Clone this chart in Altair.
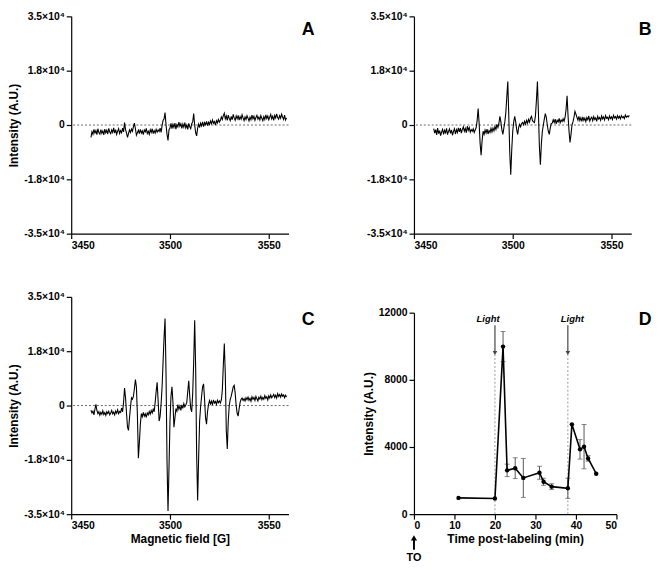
import altair as alt
import pandas as pd

FONT = "Liberation Sans"

# ---- EPR spectra (intensity in units of 1000 A.U.), sampled every 0.5 G from 3460 G ----
FIELD_START = 3460.0
FIELD_STEP = 0.5

spec_a = [
    -4.0, -2.2, -3.0, -1.4, -2.6, -1.8, -3.1, -1.2, -2.4, -2.9,
    -1.5, -2.7, -1.9, -3.2, -1.3, -2.5, -1.7, -2.9, -1.1, -2.3,
    -2.8, -1.6, -2.4, -0.9, -2.6, -1.5, -3.0, -2.0, -1.2, -2.7,
    -1.8, -2.5, -1.0, -2.2, 0.8, -1.5, -2.6, -4.0, -2.8, -1.6,
    -2.4, -1.3, -2.0, -0.5, 0.6, -1.2, -3.3, -2.5, -1.7, -2.8,
    -1.4, -2.6, -1.9, -3.1, -1.6, -2.2, -1.1, -2.7, -2.0, -3.0,
    -1.5, -2.4, -1.2, -2.8, -1.8, -2.6, -1.4, -2.3, -1.6, -2.1,
    -1.0, -2.4, -0.2, 1.5, 2.0, 4.0, 0.0, -3.0, -5.0, -1.5,
    -1.0, 0.5, -1.2, 0.2, -0.8, 0.6, -1.3, 0.1, -0.6, 0.9,
    -0.4, 0.4, -1.1, 0.3, -0.7, 0.8, -0.9, 0.0, -1.4, 0.5,
    -0.6, -1.2, 0.4, 1.0, 3.7, 0.0, -2.5, -3.5, -1.0, 0.3,
    -0.8, 0.6, -0.3, 1.0, -0.5, 0.8, 0.1, 1.2, -0.2, 0.9,
    0.2, 1.3, 0.4, 1.6, 0.6, 1.1, 0.0, 1.4, 0.7, 1.8,
    0.9, 1.5, 2.6, 1.8, 3.0, 3.8, 2.0, 2.9, 1.5, 3.2,
    2.1, 1.4, 2.8, 1.7, 3.4, 2.2, 1.5, 2.9, 2.0, 3.1,
    1.6, 2.7, 1.9, 3.3, 2.3, 1.4, 2.6, 1.8, 3.0, 2.2,
    1.3, 2.5, 1.7, 3.2, 2.0, 2.8, 1.5, 2.4, 3.1, 1.9,
    2.6, 1.6, 3.0, 2.2, 1.4, 2.7, 1.8, 3.3, 2.1, 2.9,
    1.7, 2.5, 3.4, 2.0, 2.8, 1.5, 3.1, 2.3, 3.6, 2.4,
    1.9, 3.0, 2.2, 3.5, 2.6, 1.8, 3.2, 1.6, 2.3,
]

spec_b = [
    -1.2, -2.6, -1.5, -3.2, -1.0, -2.8, -1.8, -3.4, -2.2, -1.4,
    -3.0, -1.7, -2.5, -1.1, -3.1, -2.0, -1.3, -2.7, -1.6, -3.3,
    -2.1, -1.2, -2.9, -1.5, -2.4, -0.9, -2.2, -1.0, -2.6, -1.4,
    -0.6, -2.0, -1.1, -2.5, -0.4, -1.7, -0.8, -2.3, -1.5, -2.0,
    -1.2, -2.4, -1.6, -0.8, 1.5, 5.3, 0.5, -6.0, -9.7, -5.0,
    -2.0, -3.0, -1.6, -2.6, -1.3, -2.9, -1.8, -2.4, -1.1, -2.2,
    -1.0, -1.9, -0.5, -1.4, 0.2, -0.8, 0.5, 2.8, 1.0, -1.5,
    -3.0, -1.0, 1.0, 4.0, 9.0, 14.0, 3.0, -9.0, -16.0, -8.0,
    -2.0, 1.0, 2.8, 1.0, -1.5, -3.0, -0.8, 0.2, -0.6, 0.5,
    0.8, 0.1, 1.2, 0.3, 1.5, 0.6, 1.8, 0.9, 2.2, 2.8,
    1.4, 1.0, 0.8, 3.0, 8.0, 14.0, 4.0, -7.0, -12.8, -6.0,
    -2.0, 0.0, 2.0, 3.7, 2.5, 0.0, -2.0, -3.0, -1.0, 0.5,
    0.6, 1.7, 0.8, 1.9, 0.4, 1.5, 1.0, 2.1, 0.7, 1.6,
    1.1, 2.0, 1.2, 2.5, 5.0, 9.4, 3.0, -2.0, -5.6, -3.0,
    0.0, 1.0, 2.5, 4.4, 3.5, 2.5, 1.6, 2.8, 1.4, 2.3,
    1.2, 2.6, 1.5, 2.2, 1.1, 2.4, 1.7, 2.9, 1.3, 2.1,
    2.5, 1.4, 2.7, 1.8, 2.3, 1.2, 2.8, 1.9, 2.4, 1.5,
    2.9, 2.0, 2.6, 1.6, 3.0, 2.2, 2.5, 1.7, 2.9, 2.1,
    2.6, 1.8, 3.1, 2.3, 2.7, 1.9, 3.0, 2.2, 2.8, 2.0,
    3.0, 2.4, 2.7, 2.1, 3.2, 2.5, 2.9, 2.6, 3.1,
]

spec_c = [
    -1.5, -2.4, -1.8, -3.0, -1.2, 0.4, -1.6, -2.6, -2.0, -3.1,
    -2.2, -2.8, -1.7, -2.9, -2.3, -3.2, -2.0, -2.6, -1.9, -3.0,
    -2.4, -1.6, -2.7, -2.1, -3.0, -1.8, -2.5, -1.4, -2.6, -1.9,
    -2.2, -0.8, -2.0, 1.0, 5.6, 2.5, -2.5, -7.0, -8.0, -4.0,
    -0.5, 2.5, 2.0, 3.0, 5.5, 8.4, 6.0, -3.0, -17.0, -12.0,
    -6.0, -2.6, -3.6, -2.2, -3.4, -2.7, -3.8, -2.4, -3.0, -1.9,
    -2.8, -1.6, -2.4, -1.2, -2.0, 1.0, 4.5, 7.5, 1.5, -5.0,
    -3.5, 0.5, 6.0, 14.0, 22.0, 28.0, 10.0, -18.0, -34.0, -20.0,
    -5.0, 3.0, 6.0, 1.0, -7.0, -4.0, -1.0, -1.8, 0.3, -1.2,
    -0.2, -1.6, 0.2, -0.9, 0.6, -0.4, 0.2, 1.0, 4.5, 8.0,
    3.0, -1.0, -2.0, 4.0, 14.0, 27.5, 12.0, -16.0, -30.6, -17.0,
    -5.0, -0.5, 3.0, 6.0, 7.0, 2.0, -4.0, -6.0, -2.0, 0.3,
    1.6, 0.5, 1.4, 0.2, 1.8, 0.8, 1.3, 0.4, 1.7, 0.9,
    1.5, 0.8, 1.8, 5.0, 13.0, 20.0, 10.0, -8.0, -14.0, -5.0,
    0.0, 2.0, 3.0, 4.5, 6.0, 6.5, 4.0, 0.0, -2.5, -3.4,
    -1.0, 1.0, 2.0, 2.4, 1.6, 2.2, 1.5, 2.5, 1.9, 2.7,
    1.7, 2.3, 1.4, 2.8, 2.0, 2.6, 1.6, 2.9, 2.2, 1.5,
    2.7, 2.1, 3.0, 1.9, 2.6, 2.0, 3.2, 2.3, 2.8, 1.8,
    3.1, 2.4, 3.4, 2.5, 3.0, 3.6, 2.6, 3.3, 2.4, 3.8,
    2.9, 3.5, 2.7, 3.7, 3.0, 3.4, 2.5, 3.3, 2.8,
]

field_ticks = [3450, 3500, 3550]
intensity_ticks = [-35000, -17500, 0, 17500, 35000]

# ---- Panel D: time course ----
time_min = [11, 20, 22, 23, 25, 27, 31, 32, 34, 38, 39, 41, 42, 43, 45]
signal = [970, 930, 9980, 2610, 2740, 2160, 2470, 1930, 1640, 1540, 5350, 3860, 4020, 3320, 2410]
sem = [0, 0, 900, 370, 620, 1160, 390, 210, 175, 600, 0, 580, 1320, 165, 0]
light_times = [20, 38]
light_label_x = [18.3, 39.1]
time_ticks = [0, 10, 20, 30, 40, 50]
signal_ticks = [0, 4000, 8000, 12000]

W, H = 220, 220
WD = 205
D_TOP = 16  # the 12000 line sits this far below the panel top

LABEL_EXPR = ("datum.value == 0 ? '0' : (datum.value < 0 ? '-' : '') + "
              "(abs(datum.value) > 20000 ? '3.5' : '1.8') + '\u00d710\u2074'")


def letter(text, x, y):
    return alt.Chart(pd.DataFrame({"lab": [text]})).mark_text(
        font=FONT, fontSize=18, fontWeight="bold", align="center", baseline="middle", color="black"
    ).encode(x=alt.value(x), y=alt.value(y), text="lab:N")


def spectrum_panel(vals, let, ytitle, xtitle, let_x, let_y):
    df = pd.DataFrame({
        "field": [FIELD_START + FIELD_STEP * i for i in range(len(vals))],
        "intensity": [v * 1000 for v in vals],
    })
    xenc = alt.X("field:Q",
                 scale=alt.Scale(domain=[3450, 3560], nice=False, zero=False),
                 axis=alt.Axis(values=field_ticks, format="d",
                               title="Magnetic field [G]" if xtitle else None,
                               titlePadding=2))
    yscale = alt.Scale(domain=[-35000, 35000], nice=False)
    yaxis = alt.Axis(values=intensity_ticks, labelExpr=LABEL_EXPR,
                     title="Intensity (A.U.)" if ytitle else None,
                     minExtent=48, maxExtent=48, titlePadding=3)
    zero = alt.Chart(pd.DataFrame({"z": [0]})).mark_rule(
        color="#666", strokeDash=[2, 2], strokeWidth=1
    ).encode(y=alt.Y("z:Q", scale=yscale, axis=yaxis))
    line = alt.Chart(df).mark_line(color="black", strokeWidth=1.1).encode(
        x=xenc, y=alt.Y("intensity:Q", scale=yscale, axis=yaxis)
    )
    return alt.layer(zero, line, letter(let, let_x, let_y)).properties(width=W, height=H)


panel_a = spectrum_panel(spec_a, "A", True, False, W + 20, 14)
panel_b = spectrum_panel(spec_b, "B", False, False, W + 14, 14)
panel_c = spectrum_panel(spec_c, "C", True, True, W + 20, 23)

# Panel D
df_d = pd.DataFrame({"time": time_min, "signal": signal, "sem": sem})
xs = alt.Scale(domain=[0, 50], nice=False)
ys = alt.Scale(domain=[0, 12000], nice=False, range=[H, D_TOP])
xax = alt.Axis(values=time_ticks, format="d", title="Time post-labeling (min)", titlePadding=2)
yax = alt.Axis(values=signal_ticks, format="d", title="Intensity (A.U.)",
               minExtent=35, maxExtent=35, titlePadding=4)


def X(f):
    return alt.X(f, scale=xs, axis=xax)


def Y(f):
    return alt.Y(f, scale=ys, axis=yax)


df_light = pd.DataFrame({
    "t": light_times, "base": [0, 0], "tip": [9600, 9600], "top": [11250, 11250],
    "lx": light_label_x, "ly": [11650, 11650], "txt": ["Light", "Light"],
})
light_base = alt.Chart(df_light)
dotted = light_base.mark_rule(color="#999", strokeDash=[2, 2], strokeWidth=1).encode(
    x=X("t:Q"), y=Y("base:Q"), y2="tip:Q")
stem = light_base.mark_rule(color="#444", strokeWidth=1.2).encode(
    x=X("t:Q"), y=Y("top:Q"), y2="tip:Q")
head = light_base.mark_point(shape="triangle-down", filled=True, color="#444", size=22, opacity=1).encode(
    x=X("t:Q"), y=Y("tip:Q"))
light_txt = light_base.mark_text(font=FONT, fontSize=9.5, fontStyle="italic", fontWeight="bold",
                                 color="black").encode(x=X("lx:Q"), y=Y("ly:Q"), text="txt:N")

err = alt.Chart(df_d).transform_filter("datum.sem > 0").transform_calculate(
    lo="datum.signal - datum.sem", hi="datum.signal + datum.sem")
err_rule = err.mark_rule(color="#555", strokeWidth=1).encode(x=X("time:Q"), y=Y("lo:Q"), y2="hi:Q")
err_hi = err.mark_tick(orient="horizontal", size=5, thickness=1, color="#555").encode(
    x=X("time:Q"), y=Y("hi:Q"))
err_lo = err.mark_tick(orient="horizontal", size=5, thickness=1, color="#555").encode(
    x=X("time:Q"), y=Y("lo:Q"))
d_line = alt.Chart(df_d).mark_line(color="black", strokeWidth=1.6).encode(x=X("time:Q"), y=Y("signal:Q"))
d_pts = alt.Chart(df_d).mark_point(filled=True, color="black", size=20, opacity=1).encode(
    x=X("time:Q"), y=Y("signal:Q"))

df_to = pd.DataFrame({"t": [0], "lab": ["TO"]})
to_stem = alt.Chart(df_to).mark_rule(color="black", strokeWidth=2).encode(
    x=X("t:Q"), y=alt.value(H + 26), y2=alt.value(H + 36))
to_head = alt.Chart(df_to).mark_point(shape="triangle-up", filled=True, color="black", size=40, opacity=1).encode(
    x=X("t:Q"), y=alt.value(H + 24))
to_text = alt.Chart(df_to).mark_text(font=FONT, fontSize=11, fontWeight="bold", color="black",
                                     baseline="middle").encode(
    x=X("t:Q"), y=alt.value(H + 44), text="lab:N")

panel_d = alt.layer(
    dotted, stem, head, light_txt, err_rule, err_hi, err_lo, d_line, d_pts,
    to_stem, to_head, to_text, letter("D", WD + 29, 23)
).properties(width=WD, height=H)

chart = alt.concat(
    panel_a, panel_b, panel_c, panel_d,
    columns=2, spacing={"row": 64, "column": 127}, bounds="flush",
).properties(
    padding=0, background="white"
).configure_axis(
    labelFont=FONT, titleFont=FONT, labelFontWeight="bold", titleFontWeight="bold",
    labelFontSize=10.5, titleFontSize=12, labelColor="black", titleColor="black",
    domainColor="black", tickColor="black", domainWidth=1.2, tickWidth=1.2,
    tickSize=5, labelPadding=2, grid=False,
).configure_view(stroke=None)

chart.save("out.html", embed_options={"renderer": "svg", "actions": False})
